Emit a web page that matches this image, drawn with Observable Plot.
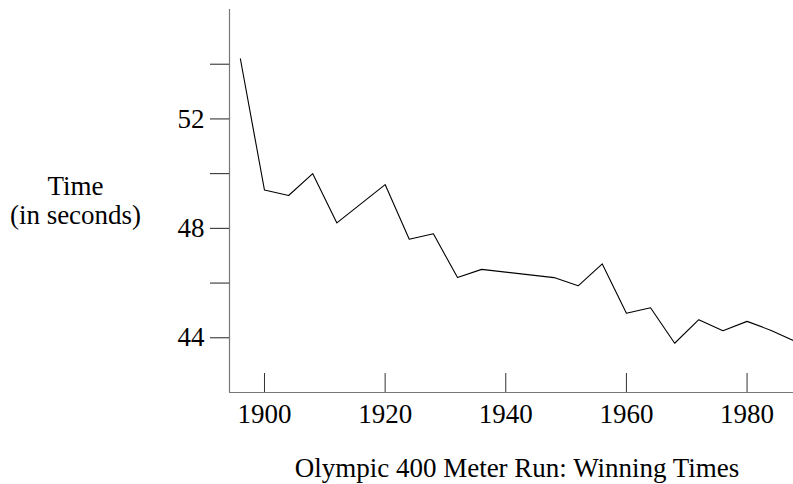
<!DOCTYPE html>
<html>
<head>
<meta charset="utf-8">
<script src="https://cdn.jsdelivr.net/npm/d3@7"></script>
<script src="https://cdn.jsdelivr.net/npm/@observablehq/plot@0.6"></script>
<style>
  html, body { margin: 0; padding: 0; background: #fff; }
  #chart svg { display: block; }
  #caption { font-family: "Liberation Serif", "Times New Roman", serif; font-size: 27px; line-height: 30px;
             width: 552px; padding-left: 241px; text-align: center; margin-top: 13px; color: #000; }
</style>
</head>
<body>
<div id="chart"></div>
<div id="caption">Olympic 400 Meter Run: Winning Times</div>
<script>
const years = [1896, 1900, 1904, 1908, 1912, 1920, 1924, 1928, 1932, 1936, 1948, 1952, 1956, 1960, 1964, 1968, 1972, 1976, 1980, 1984, 1988];
const times = [54.2, 49.4, 49.2, 50.0, 48.2, 49.6, 47.6, 47.8, 46.2, 46.5, 46.2, 45.9, 46.7, 44.9, 45.1, 43.8, 44.66, 44.26, 44.60, 44.27, 43.87];
const xTicks = [1900, 1920, 1940, 1960, 1980];
const yTicks = [44, 46, 48, 50, 52, 54];
const yLabeled = [44, 48, 52];
const yTitle = "Time\n(in seconds)";

const data = years.map((y, i) => ({year: y, time: times[i]}));
const xMin = 1894.2, xMax = 1987.7, yMin = 42, yMax = 56;

const chart = Plot.plot({
  width: 793,
  height: 440,
  marginLeft: 229,
  marginRight: 0,
  marginTop: 9,
  marginBottom: 48,
  x: {domain: [xMin, xMax]},
  y: {domain: [yMin, yMax]},
  style: {fontFamily: "'Liberation Serif', 'Times New Roman', serif", fontSize: "27px", background: "#fff", color: "#000"},
  marks: [
    Plot.ruleY([yMin], {stroke: "#777", strokeWidth: 1.2}),
    Plot.ruleX([xMin], {stroke: "#777", strokeWidth: 1.2}),
    Plot.tickX(xTicks, {x: d => d, stroke: "#333", insetTop: 364}),
    Plot.axisX({ticks: xTicks, tickSize: 0, tickPadding: 11, tickFormat: d => String(d), label: null}),
    Plot.axisY({ticks: yTicks, tickSize: 19, tickPadding: 6, stroke: "#222",
                tickFormat: d => yLabeled.includes(d) ? String(d) : "", label: null}),
    Plot.line(data, {x: "year", y: "time", stroke: "#000", strokeWidth: 1.1}),
    Plot.text([yTitle], {frameAnchor: "left", dx: -154, dy: -1, textAnchor: "middle", lineHeight: 1.1, fill: "#000"})
  ]
});
document.getElementById("chart").appendChild(chart);
</script>
</body>
</html>
